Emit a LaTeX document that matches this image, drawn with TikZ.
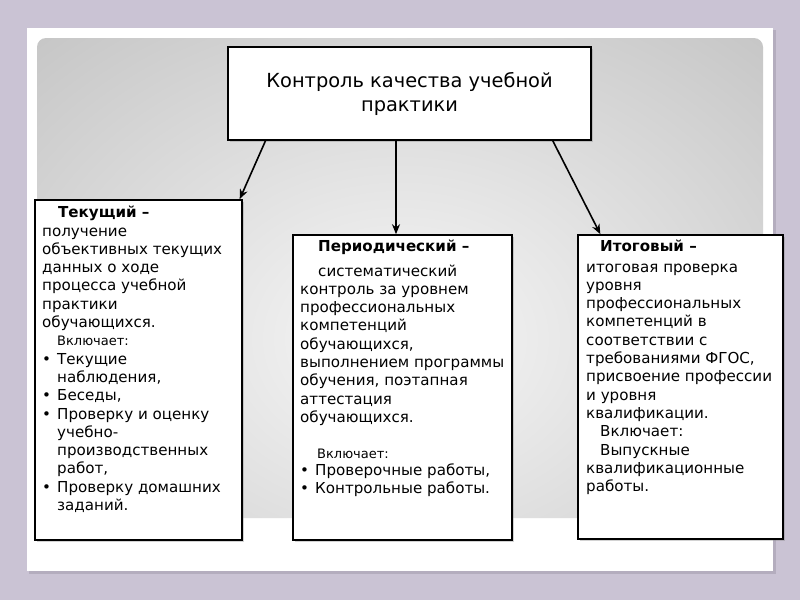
\documentclass[tikz,border=0pt]{standalone}
\usepackage{fontspec}
\setmainfont{DejaVu Sans}
\usetikzlibrary{arrows.meta,calc,shadows}
\definecolor{lavbg}{HTML}{CAC3D4}
\definecolor{lavsh}{HTML}{B4ADBE}
\definecolor{gc1}{HTML}{F7F7F7}
\definecolor{gc2}{HTML}{B0B0B0}
\definecolor{gc3}{HTML}{9E9E9E}
\pgfdeclareradialshading{bgshade}{\pgfpoint{0bp}{0bp}}{color(0bp)=(gc1); color(50bp)=(gc2); color(71bp)=(gc3); color(100bp)=(gc3)}
\tikzset{
  box/.style={draw=black, line width=1.6pt, fill=white, drop shadow={shadow xshift=1.5pt, shadow yshift=-1.5pt, opacity=0.35}},
  bodytext/.style={anchor=north west, inner sep=0pt, align=left, font=\fontsize{15.1}{18.3}\selectfont},
  conn/.style={line width=1.6pt, -{Stealth[length=10pt,width=8pt]}}
}
\newcommand{\bul}{\makebox[15pt][l]{•}}
\newcommand{\ind}[1][15pt]{\hspace*{#1}}
\newcommand{\sm}{\fontsize{13}{16}\selectfont}
\begin{document}
\begin{tikzpicture}[x=1pt,y=-1pt]
\useasboundingbox (0,0) rectangle (800,600);
\fill[lavbg] (0,0) rectangle (800,600);
% card
\fill[lavsh] (29,30) rectangle (776,574);
\fill[white] (27,28) rectangle (773,571);
% gray panel
\begin{scope}
\clip[rounded corners=9pt] (37,38) rectangle (763,518);
\shade[shading=bgshade] (10,38) rectangle (790,640);
\end{scope}
% boxes
\node[box, minimum width=363pt, minimum height=93pt, font=\fontsize{19.4}{24}\selectfont, align=center, inner sep=0pt] (top) at (409.5,93.5) {Контроль качества учебной\\практики};
\node[box, minimum width=207pt, minimum height=340pt, inner sep=0pt] (left) at (138.5,370) {};
\node[box, minimum width=219pt, minimum height=305pt, inner sep=0pt] (mid) at (402.5,387.5) {};
\node[box, minimum width=205pt, minimum height=304pt, inner sep=0pt] (right) at (680.5,387) {};
% texts
\node[bodytext] (lt) at (42,206) {\ind[16pt]\textbf{Текущий –}\\
получение\\
объективных текущих\\
данных о ходе\\
процесса учебной\\
практики\\
обучающихся.\\
{\sm\ind Включает:}\\
\bul Текущие\\
\ind наблюдения,\\
\bul Беседы,\\
\bul Проверку и оценку\\
\ind учебно-\\
\ind производственных\\
\ind работ,\\
\bul Проверку домашних\\
\ind заданий.};
\node[bodytext] (mt) at (300,240) {\ind[18pt]\textbf{Периодический –}\\[6pt]
\ind[18pt]систематический\\
контроль за уровнем\\
профессиональных\\
компетенций\\
обучающихся,\\
выполнением программы\\
обучения, поэтапная\\
аттестация\\
обучающихся.\\[18pt]
{\sm\ind[17pt]Включает:}\\[-2pt]
\bul Проверочные работы,\\
\bul Контрольные работы.};
\node[bodytext] (rt) at (586,240) {\ind[14pt]\textbf{Итоговый –}\\[2pt]
итоговая проверка\\
уровня\\
профессиональных\\
компетенций в\\
соответствии с\\
требованиями ФГОС,\\
присвоение профессии\\
и уровня\\
квалификации.\\
\ind[14pt]Включает:\\
\ind[14pt]Выпускные\\
квалификационные\\
работы.};
% connectors
\coordinate (s1) at ($(top.south west)!0.105!(top.south east)$);
\coordinate (s2) at ($(top.south west)!0.463!(top.south east)$);
\coordinate (s3) at ($(top.south west)!0.893!(top.south east)$);
\coordinate (e1) at ($(left.north west)!0.985!(left.north east)$);
\coordinate (e3) at ($(right.north west)!0.112!(right.north east)$);
\draw[conn] (s1) -- (e1);
\draw[conn] (s2) -- (s2 |- mid.north);
\draw[conn] (s3) -- (e3);
\end{tikzpicture}
\end{document}
